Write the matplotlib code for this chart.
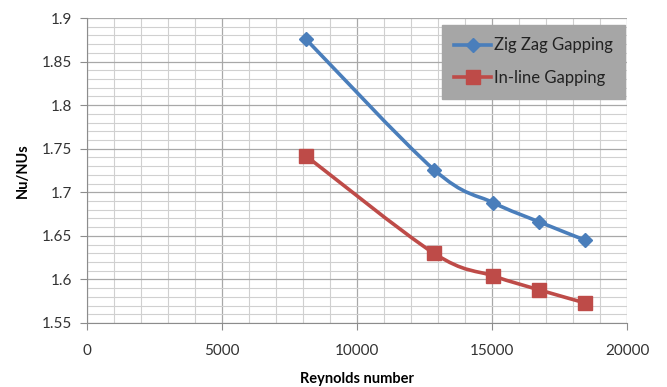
import matplotlib
matplotlib.use("Agg")
import matplotlib.pyplot as plt
from matplotlib.path import Path
from matplotlib.patches import PathPatch
from matplotlib.ticker import MultipleLocator
import numpy as np

plt.rcParams['font.family'] = ['Lato', 'DejaVu Sans']

reynolds = [8100, 12850, 15050, 16750, 18450]
zigzag = [1.876, 1.726, 1.688, 1.666, 1.645]
inline = [1.742, 1.630, 1.604, 1.588, 1.573]
series_names = ["Zig Zag Gapping", "In-line Gapping"]
x_ticks = [0, 5000, 10000, 15000, 20000]
y_ticks = [1.55, 1.6, 1.65, 1.7, 1.75, 1.8, 1.85, 1.9]

fig = plt.figure(figsize=(6.67, 3.87), dpi=100)
ax = fig.add_axes([87/667, 1-323/387, (627-87)/667, (323-18)/387])

ax.set_xlim(0, 20000)
ax.set_ylim(1.55, 1.9)
ax.xaxis.set_major_locator(MultipleLocator(5000))
ax.xaxis.set_minor_locator(MultipleLocator(1000))
ax.yaxis.set_major_locator(MultipleLocator(0.05))
ax.yaxis.set_minor_locator(MultipleLocator(0.01))
ax.set_yticks(y_ticks)
ax.set_yticklabels([f"{v:g}" for v in y_ticks])
ax.set_xticks(x_ticks)
ax.set_xticklabels([str(v) for v in x_ticks])
ax.grid(True, which='minor', color='#d0d0d0', lw=0.8)
ax.grid(True, which='major', color='#a8a8a8', lw=0.9)
ax.set_axisbelow(True)
for s in ['top', 'right']:
    ax.spines[s].set_visible(False)
for s in ['left', 'bottom']:
    ax.spines[s].set_color('#8c8c8c')
ax.tick_params(which='major', direction='out', length=5, color='#8c8c8c',
               labelsize=11, labelcolor='#333333', pad=6)
ax.tick_params(which='minor', length=0)
ax.tick_params(axis='x', pad=10)


def smooth_path(xs, ys, t=1/6):
    pts = np.column_stack([xs, ys]).astype(float)
    verts = [pts[0]]
    codes = [Path.MOVETO]
    n = len(pts)
    for i in range(n - 1):
        p0 = pts[i - 1] if i > 0 else pts[i]
        p1 = pts[i]
        p2 = pts[i + 1]
        p3 = pts[i + 2] if i + 2 < n else pts[i + 1]
        c1 = p1 + (p2 - p0) * t
        c2 = p2 - (p3 - p1) * t
        verts += [c1, c2, p2]
        codes += [Path.CURVE4] * 3
    return Path(verts, codes)


def draw(xs, ys, color, marker, ms, label):
    # smoothing done in display space to avoid scale distortion
    disp = ax.transData.transform(np.column_stack([xs, ys]))
    path = smooth_path(disp[:, 0], disp[:, 1])
    patch = PathPatch(path, facecolor='none', edgecolor=color, lw=2.6,
                      transform=None, zorder=3)
    fig.add_artist(patch)
    ax.plot(xs, ys, linestyle='none', marker=marker, ms=ms, color=color,
            zorder=4)
    return ax.plot([], [], color=color, lw=2.6, marker=marker, ms=ms,
                   label=label)[0]


h1 = draw(reynolds, zigzag, '#4a7ebb', 'D', 7.5, series_names[0])
h2 = draw(reynolds, inline, '#be4b48', 's', 10, series_names[1])

leg = ax.legend(handles=[h1, h2], loc='upper right',
                bbox_to_anchor=(625/667, 1-25/387), bbox_transform=fig.transFigure,
                frameon=True, fancybox=False, fontsize=12, handlelength=2.2,
                labelspacing=1.0, borderpad=0.75, handletextpad=0.15,
                borderaxespad=0)
leg.get_frame().set_facecolor('#a6a6a6')
leg.get_frame().set_edgecolor('#a6a6a6')
leg.get_frame().set_alpha(1)
for t in leg.get_texts():
    t.set_color('#222222')

ax.set_xlabel("Reynolds number", fontsize=10.5, fontweight='bold', labelpad=10)
ax.set_ylabel("Nu/NUs", fontsize=10.5, fontweight='bold', labelpad=8)

fig.savefig("out.png", dpi=100)
